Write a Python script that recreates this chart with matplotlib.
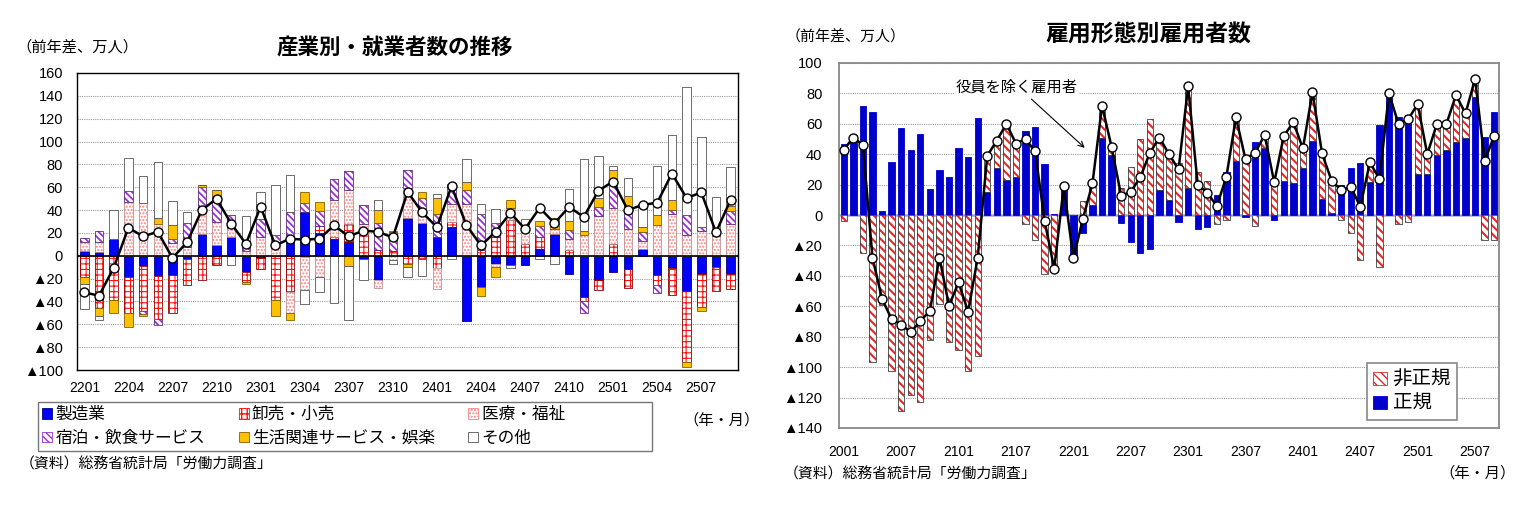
import matplotlib
matplotlib.use("Agg")
import matplotlib.pyplot as plt
import numpy as np
from matplotlib.patches import Patch
from matplotlib.ticker import FuncFormatter

plt.rcParams['font.family'] = ['Liberation Sans', 'Noto Sans CJK JP', 'DejaVu Sans']
plt.rcParams['hatch.linewidth'] = 1.0
JP = ['Noto Sans CJK JP', 'DejaVu Sans']

# ---- left chart: 産業別・就業者数 (前年差、万人), 2201..2509
leftMonths = [f"{y:02d}{m:02d}" for y in (22, 23, 24, 25) for m in range(1, 13)][:45]
manufacturing = [4, 3, 14.5, -19, -9, -18, -17, -3, 19, 9, 16, -14, -2, 0, 12,
                 38, 20, 14.5, 12, -3, -21, 0, 33, 28.5, 16, 25, -57.5, -27, -7, -8,
                 -8.3, 6.3, 19.4, -16.2, -36, -21, -14, -11.5, 6, -16.5, -10.5, -31, -16, -10, -16]
wholesale = [-19, -45.5, -39, -31, -39, -37, -33, -23, -21.5, -8, 0, -9, -10, -38.5, -32,
             -1, 6, 1.5, 16, 19, 5, 4, -7, -3, -11, 5, 0, 5, 16, 31,
             10, 9.7, 0, 4.7, -4, -9, 10.5, -16.5, 0, -9.5, -23.5, -62, -29, -20.5, -13]
medical = [8, 9, 0, 47, 46, 28, 11, 8, 21, 21, 8, 4, 16, 12, -18,
           -29, -19, 33, 30, 9, -7, -3.5, 26.5, 7.5, -18, 15.5, 45.5, 0, -2.5, 10.5,
           14, 0, 4, 10.3, 18.5, 34.5, 31.5, 23, 7, 27, 37, 18, 22, 17, 28]
accommodation = [3.5, 10, 0, 10, -3, -6, 4, 21, 20.5, 22, 12, 6, 16, 6.5, 26,
                 8, 13, 18.5, 16, 16.5, 23.5, 17, 15.5, 15, 21, 17, 12.5, 32, 12.5, 0,
                 0, 9.8, 0, 7.3, -10, 8, 20.5, 15, 7.5, -6.5, 3, 18, 3.5, 0, 11.5]
lifestyle = [-5.5, -7, -11.5, -12, -2, 5, 12, 0, 1.5, 6, 0, -2, 0, -14, -6,
             10, 8, 0, -9, 0, 11.5, 1, -2.5, 5, 14, 0, 6.5, -8.5, -9.5, 7,
             0, 4.7, 9.6, 8.2, 3.5, 8.5, 12.5, 14.5, 5, 9, 9, -4, -3.5, 0.5, 4.5]
others = [-22.5, -4, 25.5, 29, 24, 49, 21, 9, 0, 0, -8, 25, 24, 43.5, 33,
          -12, -13, -41, -47.5, -18.5, 9, -3.5, -9.5, -15, 3, -3, 20.5, 8, 12.5, -2.5,
          8, -2.6, -6.8, 28.3, 62.5, 36, 4, 15.5, 20, 43, 56.5, 112, 78.5, 34, 34]
employedTotal = [-32, -35, -10.5, 24.5, 17, 21, -2, 12, 40, 50, 28, 10.5, 43, 9, 15,
                 14, 15, 26.5, 17, 22, 21, 16, 56, 38, 25, 61, 27, 9, 21, 37.5,
                 23.5, 42, 28.5, 42.7, 34, 57, 65, 40, 44.5, 46.5, 72, 50.5, 55.5, 20.5, 49]
industryNames = ["製造業", "卸売・小売", "医療・福祉　　　　　", "宿泊・飲食サービス",
                 "生活関連サービス・娯楽", "その他"]

# ---- right chart: 雇用形態別雇用者数 (前年差、万人), 2001..2509
rightMonths = [f"{y:02d}{m:02d}" for y in range(20, 26) for m in range(1, 13)][:69]
regular = [47, 48, 72, 68, 2.5, 35, 57, 43, 53, 17, 29.6, 25, 44, 38, 64, 15, 31, 23, 25, 55,
           57.6, 33.5, 1, 19, -28.5, -12, 6.6, 51, 39.5, -5.5, -17.5, -25.2, -22.6, 16.4, 9.9, -4.4,
           17.5, -9.4, -8.1, 13.2, 28.5, 35.7, -1.5, 47.8, 43.8, -3.3, 22.6, 20.8, 30.7, 48.9,
           10.5, 1.5, 19.5, 30.7, 34, 21.9, 59.2, 77.4, 64.7, 65.8, 27, 27, 39.5, 42.7, 48.2,
           51, 77.8, 51.5, 67.9]
nonRegular = [-4, 3, -25, -96.5, -59, -102.5, -129, -118.5, -122.7, -82, -58.7, -83.5, -88.8,
              -102.6, -92.7, 25, 20, 37, 20, -6, -16.4, -38.8, -36, 0.5, 0, 9.4, 13.5, 19.8, 4.5,
              17.5, 31.8, 49.8, 62.9, 30.7, 28.5, 34, 64.7, 28.5, 22.6, -6.1, -3.3, 26.8, 36, -7.2,
              6.6, 24, 31, 37.7, 13, 29.3, 30, 20.4, -3.5, -12, -29.6, 12, -34, 2.5, -5.9, -4.4,
              46.9, 12.5, 20.8, 17.1, 29.2, 16.9, 8.8, -16.4, -16.4]
employeesTotal = [43, 51, 46, -28, -55, -68.5, -72, -77, -69.7, -63, -28, -59.6, -44.3, -63.6,
                  -28, 39, 49, 60, 47, 50, 42, -4, -35.3, 19, -28.5, -2.4, 20.8, 72, 44.7, 12.7,
                  15.3, 24.8, 41, 51, 40, 30, 84.8, 20, 14.7, 5.9, 25.2, 64.2, 36.6, 41, 52.6,
                  21.5, 52, 61, 43.8, 80.9, 40.5, 22.6, 16.4, 18.6, 5.5, 34.6, 23.7, 80, 59.8,
                  62.9, 73, 40, 59.8, 59.8, 78.9, 66.8, 89.6, 35.7, 52]


def tri(v, pos):
    return f"▲{abs(int(v))}" if v < 0 else f"{int(v)}"


def setHatchWidth(container, lw):
    for p in container:
        if hasattr(p, 'set_hatch_linewidth'):
            p.set_hatch_linewidth(lw)


def stackBars(ax, x, series, styles, width):
    pos = np.zeros(len(x))
    neg = np.zeros(len(x))
    for vals, (face, hatch, hatchColor, outline, hlw) in zip(series, styles):
        v = np.asarray(vals, dtype=float)
        bottom = np.where(v >= 0, pos, neg)
        if hatch:
            bars = ax.bar(x, v, width, bottom=bottom, color=face, edgecolor=hatchColor,
                          hatch=hatch, linewidth=0, zorder=2)
            setHatchWidth(bars, hlw)
            ax.bar(x, v, width, bottom=bottom, fill=False, edgecolor=outline, linewidth=0.6, zorder=2)
        else:
            ax.bar(x, v, width, bottom=bottom, color=face, edgecolor=outline, linewidth=0.6, zorder=2)
        pos += np.where(v > 0, v, 0)
        neg += np.where(v < 0, v, 0)


def legendHandle(face, hatch, hatchColor, outline, hlw):
    if hatch:
        p = Patch(facecolor=face, edgecolor=hatchColor, hatch=hatch, linewidth=0.6)
        if hasattr(p, 'set_hatch_linewidth'):
            p.set_hatch_linewidth(hlw)
        return p
    return Patch(facecolor=face, edgecolor=outline, linewidth=0.6)


fig = plt.figure(figsize=(15.3, 5.19), dpi=100)

# ---------------- left
axL = fig.add_axes([77 / 1530, 1 - 370 / 519, 661 / 1530, 297 / 519])
xl = np.arange(len(leftMonths))
leftStyles = [('#0000FF', None, None, '#000080', 1),
              ('white', '+++', '#FF1010', '#900000', 0.8),
              ('white', '.....', '#FF8080', '#C09090', 1),
              ('white', '\\\\\\\\\\', '#9933CC', '#603080', 1.3),
              ('#FFC000', None, None, '#806000', 1),
              ('white', None, None, '#555555', 1)]
stackBars(axL, xl, [manufacturing, wholesale, medical, accommodation, lifestyle, others],
          leftStyles, 0.58)
axL.plot(xl, employedTotal, color='black', lw=1.8, marker='o', markersize=6.5,
         markerfacecolor='white', markeredgecolor='black', markeredgewidth=1, zorder=4)
axL.axhline(0, color='black', lw=1.2, zorder=3)
axL.set_xlim(-0.5, len(leftMonths) - 0.5)
axL.set_ylim(-100, 160)
axL.set_yticks(np.arange(-100, 161, 20))
axL.yaxis.set_major_formatter(FuncFormatter(tri))
axL.set_xticks(xl[::3])
axL.set_xticklabels(leftMonths[::3])
axL.tick_params(axis='y', length=0, labelsize=10.5, pad=10)
axL.tick_params(axis='x', length=0, labelsize=10, pad=8)
axL.grid(axis='y', color='#999999', linestyle=(0, (1, 1)), lw=0.8, zorder=0)
for s in axL.spines.values():
    s.set_color('black')
    s.set_linewidth(1)

fig.text(395 / 1530, 1 - 47 / 519, "産業別・就業者数の推移", ha='center', va='center',
         fontsize=15.5, fontweight='bold', family=JP)
fig.text(16 / 1530, 1 - 47 / 519, "（前年差、万人）", ha='left', va='center', fontsize=11, family=JP)

hl = [legendHandle(*st) for st in leftStyles]
order = [0, 3, 1, 4, 2, 5]
legL = fig.legend([hl[i] for i in order], [industryNames[i] for i in order], ncol=3,
                  loc='upper left', bbox_to_anchor=(38 / 1530, 1 - 402 / 519),
                  prop={'family': JP, 'size': 12}, frameon=True, fancybox=False,
                  edgecolor='#555555', borderpad=0.25, handlelength=0.6, handleheight=0.6,
                  handletextpad=0.2, columnspacing=2.0, labelspacing=0.4, borderaxespad=0)
legL.get_frame().set_linewidth(1)
fig.text(722 / 1530, 1 - 420 / 519, "（年・月）", ha='center', va='center', fontsize=11, family=JP)
fig.text(20 / 1530, 1 - 464 / 519, "（資料）総務省統計局「労働力調査」", ha='left', va='center',
         fontsize=10.7, family=JP)

# ---------------- right
axR = fig.add_axes([839 / 1530, 1 - 428 / 519, 660 / 1530, 365 / 519])
xr = np.arange(len(rightMonths))
rightStyles = [('#0000CC', None, None, '#0000CC', 1),
               ('white', '\\\\\\\\', '#E02828', '#404040', 1.5)]
stackBars(axR, xr, [regular, nonRegular], rightStyles, 0.66)
axR.plot(xr, employeesTotal, color='black', lw=1.8, marker='o', markersize=6.5,
         markerfacecolor='white', markeredgecolor='black', markeredgewidth=1, zorder=4)
axR.axhline(0, color='#A8A8D8', lw=1.8, zorder=1.5)
axR.set_xlim(-0.5, len(rightMonths) - 0.5)
axR.set_ylim(-140, 100)
axR.set_yticks(np.arange(-140, 101, 20))
axR.yaxis.set_major_formatter(FuncFormatter(tri))
axR.set_xticks(xr[::6])
axR.set_xticklabels(rightMonths[::6])
axR.tick_params(axis='y', length=0, labelsize=10.5, pad=12)
axR.tick_params(axis='x', length=0, labelsize=10, pad=12)
axR.grid(axis='y', color='#999999', linestyle=(0, (1, 1)), lw=0.8, zorder=0)
for s in axR.spines.values():
    s.set_color('#888888')
    s.set_linewidth(1.3)

axR.text(18.1, 84, "役員を除く雇用者", ha='center', va='center', fontsize=11, family=JP,
         bbox=dict(facecolor='white', edgecolor='none', pad=1))
axR.annotate("", xy=(25.4, 43), xytext=(19.4, 77.5),
             arrowprops=dict(arrowstyle='->', color='black', lw=0.8))

hr = [legendHandle(*rightStyles[1]), legendHandle(*rightStyles[0])]
legR = axR.legend(hr, ["非正規", "正規"], loc='lower right',
                  bbox_to_anchor=(1457 / 1530, 1 - 420 / 519), bbox_transform=fig.transFigure,
                  prop={'family': JP, 'size': 14}, frameon=True, fancybox=False,
                  edgecolor='#888888', framealpha=1, borderpad=0.3, handlelength=0.7,
                  handleheight=0.7, handletextpad=0.3, labelspacing=0.15, borderaxespad=0)
legR.get_frame().set_linewidth(1.2)

fig.text(1148 / 1530, 1 - 35 / 519, "雇用形態別雇用者数", ha='center', va='center',
         fontsize=16.5, fontweight='bold', family=JP)
fig.text(786 / 1530, 1 - 36 / 519, "（前年差、万人）", ha='left', va='center', fontsize=10.8, family=JP)
fig.text(784 / 1530, 1 - 474 / 519, "（資料）総務省統計局「労働力調査」", ha='left', va='center',
         fontsize=10.7, family=JP)
fig.text(1478 / 1530, 1 - 473 / 519, "（年・月）", ha='center', va='center', fontsize=11, family=JP)

fig.savefig("out.png", dpi=100, facecolor='white')
